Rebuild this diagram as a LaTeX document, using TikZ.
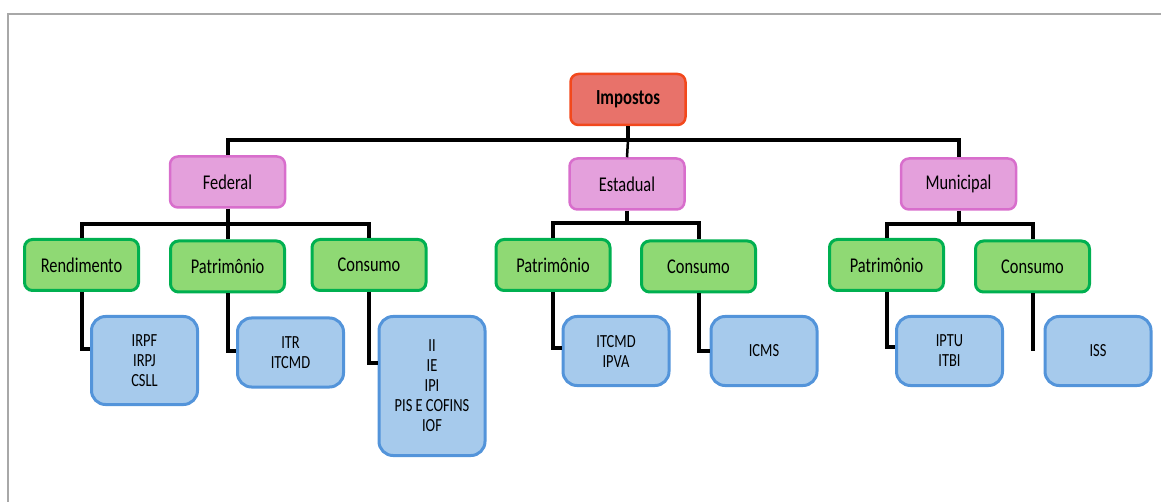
\documentclass[tikz,border=0pt]{standalone}
\usepackage{fontspec}
\setmainfont[FakeStretch=0.78]{Carlito}
\usetikzlibrary{calc}
\definecolor{impfill}{HTML}{E8726A}
\definecolor{impline}{HTML}{F2481C}
\definecolor{esffill}{HTML}{E4A0DC}
\definecolor{esfline}{HTML}{D86ECC}
\definecolor{grpfill}{HTML}{8FD974}
\definecolor{grpline}{HTML}{00B050}
\definecolor{lstfill}{HTML}{A6CAEC}
\definecolor{lstline}{HTML}{5394DA}
\definecolor{moldura}{HTML}{A8A8A8}
\begin{document}
\begin{tikzpicture}[x=1pt, y=-1pt,
  topo/.style={draw=impline, fill=impfill, line width=2.5pt, rounded corners=8pt,
    minimum width=115pt, minimum height=51pt, font=\fontsize{21.5}{24}\selectfont\bfseries},
  esfera/.style={draw=esfline, fill=esffill, line width=2.5pt, rounded corners=8pt,
    minimum width=115pt, minimum height=51pt, font=\fontsize{21}{24}\selectfont},
  grupo/.style={draw=grpline, fill=grpfill, line width=3pt, rounded corners=8pt,
    minimum width=114pt, minimum height=51pt, font=\fontsize{21}{24}\selectfont},
  lista/.style={draw=lstline, fill=lstfill, line width=3pt, rounded corners=14pt,
    minimum width=106pt, align=center, font=\fontsize{18.5}{20}\selectfont},
  elo/.style={line width=4pt}]
\useasboundingbox (0,0) rectangle (1161,502);
\draw[moldura, line width=2pt] (8,502) -- (8,14) -- (1161,14);

\node[topo] (imp) at (628,99.5) {Impostos};

\node[esfera] (fed) at (227.5,182) {Federal};
\node[esfera] (est) at (627,184) {Estadual};
\node[esfera] (mun) at (958.5,184) {Municipal};

\node[grupo] (frend) at (81.5,265) {Rendimento};
\node[grupo] (fpat) at (227.5,266.5) {Patrimônio};
\node[grupo] (fcons) at (369,265) {Consumo};
\node[grupo] (epat) at (553,265) {Patrimônio};
\node[grupo] (econs) at (698.5,266.5) {Consumo};
\node[grupo] (mpat) at (886.5,265) {Patrimônio};
\node[grupo] (mcons) at (1032.5,266.5) {Consumo};

\node[lista, minimum height=88pt] (firpf) at (144.5,360.5) {IRPF\\IRPJ\\CSLL};
\node[lista, minimum height=69pt] (fitr) at (290.5,352.5) {ITR\\ITCMD};
\node[lista, minimum height=139pt] (fii) at (432,386) {II\\IE\\IPI\\PIS E COFINS\\IOF};
\node[lista, minimum height=69pt] (eitcmd) at (616,351) {ITCMD\\IPVA};
\node[lista, minimum height=69pt] (eicms) at (764,351) {ICMS};
\node[lista, minimum height=69pt] (miptu) at (949.5,351) {IPTU\\ITBI};
\node[lista, minimum height=69pt] (miss) at (1098,351) {ISS};

\coordinate (mfim) at (1032.5,351);

\draw[elo] (imp.south) -- (imp.south |- 0,140);
\draw[elo] (fed.north) -- (fed.north |- 0,140) -- (mun.north |- 0,140) -- (mun.north);
\draw[line width=2.5pt] (imp.south |- 0,140) -- (est.north);

\draw[elo] (fed.south) -- (fpat.north);
\draw[elo] (frend.north) -- (frend.north |- 0,224) -- (fcons.north |- 0,224) -- (fcons.north);
\draw[elo] (est.south) -- (est.south |- 0,223);
\draw[elo] (epat.north) -- (epat.north |- 0,223) -- (econs.north |- 0,223) -- (econs.north);
\draw[elo] (mun.south) -- (mun.south |- 0,224);
\draw[elo] (mpat.north) -- (mpat.north |- 0,224) -- (mcons.north |- 0,224) -- (mcons.north);

\draw[elo] (frend.south) |- ($(firpf.west)+(0,-12)$);
\draw[elo] (fpat.south) |- ($(fitr.west)+(0,-2)$);
\draw[elo] (fcons.south) |- ($(fii.west)+(0,-23)$);
\draw[elo] (epat.south) |- ($(eitcmd.west)+(0,-3)$);
\draw[elo] (econs.south) |- (eicms.west);
\draw[elo] (mpat.south) |- ($(miptu.west)+(0,-4)$);
\draw[elo] (mcons.south) -- (mfim);
\end{tikzpicture}
\end{document}
